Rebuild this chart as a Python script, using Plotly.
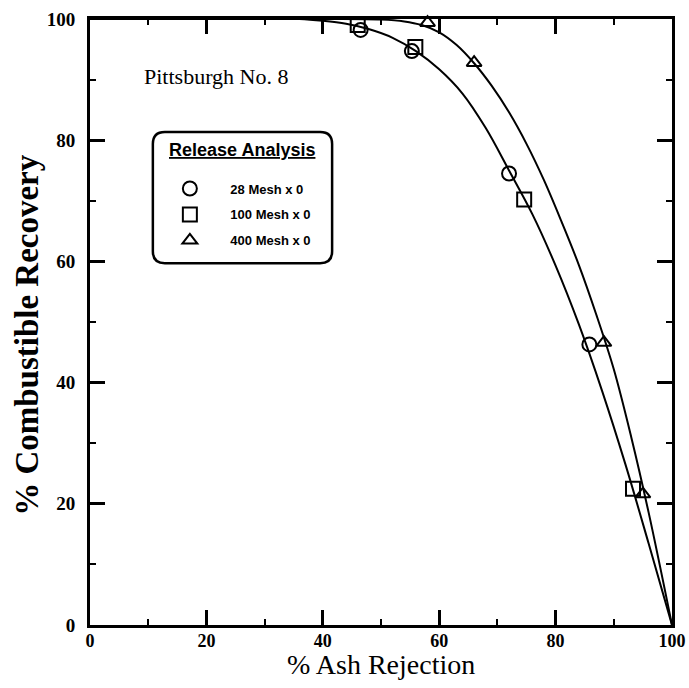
import plotly.graph_objects as go

# Release analysis data: % ash rejection vs % combustible recovery
mesh_28_x = [46.5, 55.3, 72.0, 85.8]
mesh_28_y = [98.2, 94.7, 74.5, 46.3]

mesh_100_x = [46.0, 55.9, 74.6, 93.3]
mesh_100_y = [99.0, 95.4, 70.2, 22.5]

mesh_400_x = [58.0, 66.0, 88.3, 95.0]
mesh_400_y = [99.4, 92.8, 46.6, 21.6]

# Fitted release curves
fit_fine_x = [0, 30, 36, 40, 44, 48, 52, 56, 60, 64, 68, 72, 76, 80, 84, 88, 92, 96, 100]
fit_fine_y = [100, 100, 100, 99.7, 99.2, 98.3, 96.9, 94.7, 91.7, 87.7, 82.0, 75.0, 67.8, 59.3, 49.6, 38.6, 26.5, 13.4, 0]

fit_ultra_x = [0, 40, 50, 54, 57, 60, 63, 66, 69, 72, 75, 78, 81, 84, 87, 90, 93, 96, 100]
fit_ultra_y = [100, 100, 99.9, 99.6, 99.0, 97.8, 95.7, 92.7, 89.0, 84.6, 79.4, 73.4, 66.6, 59.4, 51.2, 42.2, 31.0, 18.5, 0]

x_ticks = [0, 20, 40, 60, 80, 100]
y_ticks = [0, 20, 40, 60, 80, 100]

SERIF = "Liberation Serif"
SANS = "Liberation Sans"

fig = go.Figure()

for cx, cy in [(fit_fine_x, fit_fine_y), (fit_ultra_x, fit_ultra_y)]:
    fig.add_trace(go.Scatter(
        x=cx, y=cy, mode="lines", showlegend=False, hoverinfo="skip",
        line=dict(color="black", width=2, shape="spline", smoothing=1.0),
    ))

series = [
    ("<b>28 Mesh x 0</b>", mesh_28_x, mesh_28_y, "circle-open", 14),
    ("<b>100 Mesh x 0</b>", mesh_100_x, mesh_100_y, "square-open", 14),
    ("<b>400 Mesh x 0</b>", mesh_400_x, mesh_400_y, "triangle-up-open", 13),
]
for i, (name, sx, sy, sym, size) in enumerate(series):
    fig.add_trace(go.Scatter(
        x=sx, y=sy, mode="markers", name=name, legendgroup=f"g{i}",
        marker=dict(symbol=sym, size=size, color="black", line=dict(color="black", width=2)),
        cliponaxis=False,
    ))

axis_common = dict(
    showline=True, linecolor="black", linewidth=3, mirror="ticks",
    ticks="inside", ticklen=15, tickwidth=2.5, tickcolor="black",
    showgrid=False, zeroline=False, automargin=False,
    minor=dict(dtick=10, ticks="inside", ticklen=6, tickwidth=2, tickcolor="black", showgrid=False),
)

fig.update_xaxes(
    range=[0, 100], tickvals=x_ticks, ticktext=[str(v) for v in x_ticks],
    ticklabelstandoff=-3,
    tickfont=dict(family=SERIF, size=18, color="black", weight="bold"),
    **axis_common,
)
fig.update_yaxes(
    range=[0, 100], tickvals=y_ticks, ticktext=[str(v) for v in y_ticks],
    ticklabelstandoff=8,
    tickfont=dict(family=SERIF, size=19, color="black", weight="bold"),
    **axis_common,
)

# Axis titles
fig.add_annotation(
    text="% Ash Rejection", xref="paper", yref="paper", x=0.5, y=-0.066,
    xanchor="center", yanchor="middle", showarrow=False,
    font=dict(family=SERIF, size=28, color="black"),
)
fig.add_annotation(
    text="% Combustible Recovery", xref="paper", yref="paper", x=-0.108, y=0.479,
    xanchor="center", yanchor="middle", showarrow=False, textangle=-90,
    font=dict(family=SERIF, size=33, color="black", weight="bold"),
)

# Rounded frame around the legend (paper coordinates)
x0, x1, y0, y1 = 0.108, 0.416, 0.597, 0.8135
rx, ry = 0.0206, 0.0198
frame = (f"M {x0+rx},{y1} L {x1-rx},{y1} Q {x1},{y1} {x1},{y1-ry} "
         f"L {x1},{y0+ry} Q {x1},{y0} {x1-rx},{y0} L {x0+rx},{y0} "
         f"Q {x0},{y0} {x0},{y0+ry} L {x0},{y1-ry} Q {x0},{y1} {x0+rx},{y1} Z")
fig.add_shape(type="path", path=frame, xref="paper", yref="paper",
              line=dict(color="black", width=2.5), fillcolor="rgba(0,0,0,0)")

fig.add_annotation(
    text="<b><u>Release Analysis</u></b>", xref="paper", yref="paper", x=0.261, y=0.784,
    xanchor="center", yanchor="middle", showarrow=False,
    font=dict(family=SANS, size=18, color="black"),
)

fig.add_annotation(
    text="Pittsburgh No. 8", xref="paper", yref="paper", x=0.217, y=0.905,
    xanchor="center", yanchor="middle", showarrow=False,
    font=dict(family=SERIF, size=22, color="black"),
)

fig.update_layout(
    width=689, height=688,
    margin=dict(l=90, r=17, t=19, b=63),
    paper_bgcolor="white", plot_bgcolor="white",
    legend=dict(
        x=0.102, y=0.745, xanchor="left", yanchor="top",
        bgcolor="rgba(0,0,0,0)", borderwidth=0,
        font=dict(family=SANS, size=13, color="black"),
        itemwidth=71, tracegroupgap=6,
    ),
)

fig.write_html("out.html")
